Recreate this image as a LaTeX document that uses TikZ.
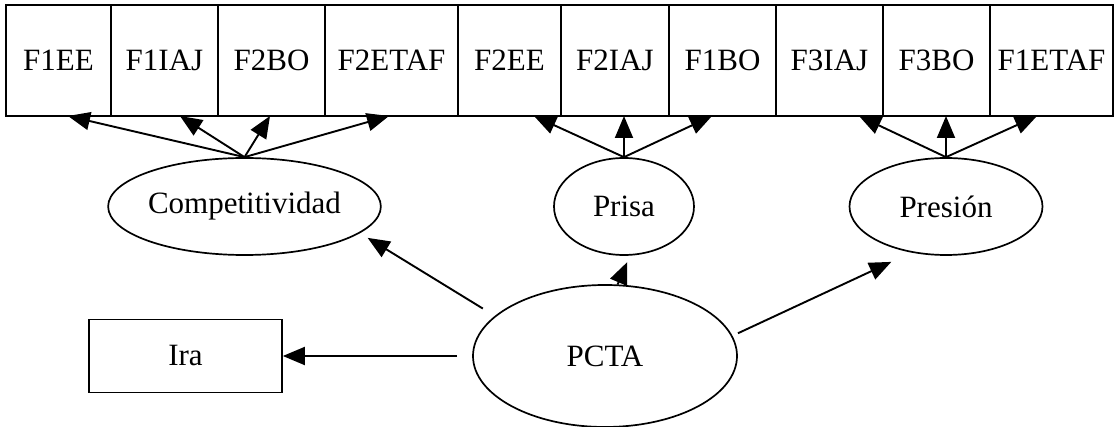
\documentclass[tikz,border=0pt]{standalone}
\usepackage{fontspec}
\setmainfont{Liberation Serif}
\usetikzlibrary{arrows.meta}
\usetikzlibrary{shapes.geometric}
\tikzset{cell/.style={draw,line width=1.1pt,minimum height=55.5pt,inner sep=0pt,outer sep=0pt},
 latent/.style={draw,ellipse,line width=0.85pt,inner sep=0pt,minimum height=48.5pt},
 observed/.style={draw,line width=0.85pt,inner sep=0pt},
 link/.style={line width=0.95pt,-{Triangle[length=11pt,width=9pt]}},
 }

\begin{document}
\begin{tikzpicture}[x=0.5pt,y=-0.5pt,font=\fontsize{15.5}{18}\selectfont]
        \useasboundingbox (0,0) rectangle (1115,427);
        \foreach \l/\w/\lab in {6/105/F1EE, 111/107/F1IAJ, 218/107/F2BO, 325/133/F2ETAF, 458/103/F2EE,
                                561/108/F2IAJ, 669/107/F1BO, 776/107/F3IAJ, 883/107/F3BO, 990/123/F1ETAF} {
            \node[cell, anchor=west, minimum width=\w*0.5pt] (\lab) at (\l, 60.5) {\lab};
        }
        \node[latent, minimum width=132.5pt] (comp) at (244.5, 206.5) {Competitividad};
        \node[latent, minimum width=70pt] (prisa) at (624, 206.5) {Prisa};
        \node[latent, minimum width=96.5pt] (presion) at (946, 206.5) {Presión};
        \node[latent, minimum width=132pt, minimum height=71pt] (pcta) at (605, 356) {PCTA};
        \node[observed, minimum width=96.5pt, minimum height=36.5pt] (ira) at (185.5, 356) {Ira};

        \foreach \t/\s in {F1EE/4.75, F1IAJ/7.75, F2BO/-0.75, F2ETAF/-1.25} {
            \draw[link] (comp.north) -- ([xshift=\s pt]\t.south);
        }
        \foreach \t/\s in {F2EE/12.25, F2IAJ/4.5, F1BO/-5.25} {
            \draw[link] (prisa.north) -- ([xshift=\s pt]\t.south);
        }
        \foreach \t/\s in {F3IAJ/14.75, F3BO/4.75, F1ETAF/-7.25} {
            \draw[link] (presion.north) -- ([xshift=\s pt]\t.south);
        }

        \draw[link, shorten <=7.5pt] (pcta.west) -- (ira.east);
        \draw[link, shorten <=7pt, shorten >=4.5pt] (pcta.160) -- (comp.-13);
        \draw[link, shorten >=3.5pt] (pcta.80) -- (prisa.-83);
        \draw[link, shorten <=3pt, shorten >=11pt] (pcta.9) -- (presion.-127);
    \end{tikzpicture}
\end{document}
